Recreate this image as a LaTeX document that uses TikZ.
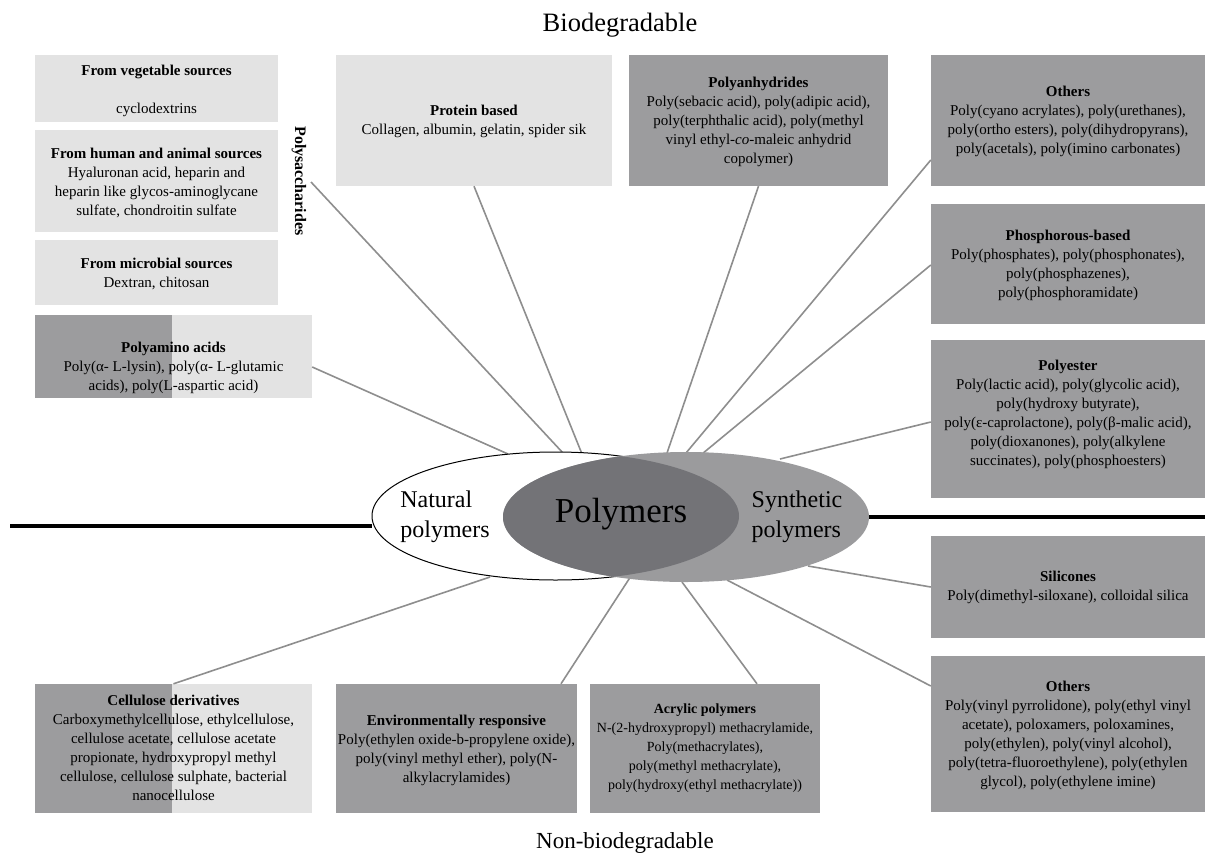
\documentclass[tikz,border=0pt]{standalone}
\usepackage{fontspec}
\setmainfont{Liberation Serif}
\usetikzlibrary{calc,shapes.geometric}
\definecolor{lightgr}{HTML}{E3E3E3}
\definecolor{darkgr}{HTML}{9C9C9E}
\definecolor{lensgr}{HTML}{737377}
\definecolor{syngr}{HTML}{9B9B9D}
\definecolor{conngr}{HTML}{8E8E8E}
\newcommand\boxfont{\fontsize{15pt}{19pt}\selectfont}
\newcommand\smallboxfont{\fontsize{14pt}{19pt}\selectfont}
\begin{document}
\begin{tikzpicture}[x=1pt,y=-1pt,
  lbox/.style={fill=lightgr,draw=none,inner sep=0pt},
  dbox/.style={fill=darkgr,draw=none,inner sep=0pt},
  hbox/.style={fill=lightgr,draw=none,inner sep=0pt,
    path picture={\fill[darkgr] (path picture bounding box.south west) rectangle ([xshift=-1.5pt]path picture bounding box.north);}},
  txt/.style={align=center,font=\boxfont,inner sep=0pt},
  conn/.style={draw=conngr,line width=1.6pt},
  axisline/.style={draw=black,line width=4.5pt},
  big/.style={font=\fontsize{24pt}{30pt}\selectfont,align=left,inner sep=0pt}]
\useasboundingbox (0,0) rectangle (1205,860);
\fill[white] (0,0) rectangle (1205,860);

% titles
\node[font=\fontsize{26.5pt}{30pt}\selectfont] (bio) at (620,25) {Biodegradable};
\node[font=\fontsize{23pt}{28pt}\selectfont] (nonbio) at (625,843) {Non-biodegradable};

% boxes
\node[lbox,minimum width=243pt,minimum height=67pt] (veg) at (156.5,88.5) {};
\node[lbox,minimum width=243pt,minimum height=102pt] (hum) at (156.5,181) {};
\node[lbox,minimum width=243pt,minimum height=65pt] (mic) at (156.5,272.5) {};
\node[hbox,minimum width=277pt,minimum height=83pt] (pa) at (173.5,356.5) {};
\node[lbox,minimum width=276pt,minimum height=131pt] (pr) at (474,120.5) {};
\node[dbox,minimum width=259pt,minimum height=131pt] (pan) at (758.5,120.5) {};
\node[dbox,minimum width=274pt,minimum height=131pt] (ot) at (1068,120.5) {};
\node[dbox,minimum width=274pt,minimum height=120pt] (ph) at (1068,264) {};
\node[dbox,minimum width=274pt,minimum height=158pt] (pe) at (1068,419) {};
\node[dbox,minimum width=274pt,minimum height=102pt] (si) at (1068,587) {};
\node[dbox,minimum width=274pt,minimum height=156pt] (ob) at (1068,734) {};
\node[hbox,minimum width=277pt,minimum height=129pt] (ce) at (173.5,748.5) {};
\node[dbox,minimum width=241pt,minimum height=129pt] (en) at (456.5,748.5) {};
\node[dbox,minimum width=230pt,minimum height=129pt] (ac) at (705,748.5) {};

% box texts
\node[txt] (vegt) at (156.5,91) {\textbf{From vegetable sources}\\[19pt]cyclodextrins};
\node[txt] (humt) at (156.5,183) {\textbf{From human and animal sources}\\Hyaluronan acid, heparin and\\heparin like glycos-aminoglycane\\sulfate, chondroitin sulfate};
\node[txt] (mict) at (156.5,274) {\textbf{From microbial sources}\\Dextran, chitosan};
\node[txt] (pat) at (173.5,368) {\textbf{Polyamino acids}\\Poly(α- L-lysin), poly(α- L-glutamic\\acids), poly(L-aspartic acid)};
\node[txt] (prt) at (474,121.5) {\textbf{Protein based}\\Collagen, albumin, gelatin, spider sik};
\node[txt] (pant) at (758.5,122) {\textbf{Polyanhydrides}\\Poly(sebacic acid), poly(adipic acid),\\poly(terphthalic acid), poly(methyl\\vinyl ethyl-\textit{co}-maleic anhydrid\\copolymer)};
\node[txt] (ott) at (1068,121) {\textbf{Others}\\Poly(cyano acrylates), poly(urethanes),\\poly(ortho esters), poly(dihydropyrans),\\poly(acetals), poly(imino carbonates)};
\node[txt] (pht) at (1068,265.5) {\textbf{Phosphorous-based}\\Poly(phosphates), poly(phosphonates),\\poly(phosphazenes),\\poly(phosphoramidate)};
\node[txt] (pet) at (1068,414) {\textbf{Polyester}\\Poly(lactic acid), poly(glycolic acid),\\poly(hydroxy butyrate),\\poly(ε-caprolactone), poly(β-malic acid),\\poly(dioxanones), poly(alkylene\\succinates), poly(phosphoesters)};
\node[txt] (sit) at (1068,587.5) {\textbf{Silicones}\\Poly(dimethyl-siloxane), colloidal silica};
\node[txt] (obt) at (1068,735) {\textbf{Others}\\Poly(vinyl pyrrolidone), poly(ethyl vinyl\\acetate), poloxamers, poloxamines,\\poly(ethylen), poly(vinyl alcohol),\\poly(tetra-fluoroethylene), poly(ethylen\\glycol), poly(ethylene imine)};
\node[txt] (cet) at (173.5,748) {\textbf{Cellulose derivatives}\\Carboxymethylcellulose, ethylcellulose,\\cellulose acetate, cellulose acetate\\propionate, hydroxypropyl methyl\\cellulose, cellulose sulphate, bacterial\\nanocellulose};
\node[txt] (ent) at (456.5,750.5) {\textbf{Environmentally responsive}\\Poly(ethylen oxide-b-propylene oxide),\\poly(vinyl methyl ether), poly(N-\\alkylacrylamides)};
\node[txt,font=\smallboxfont] (act) at (705,748.5) {\textbf{Acrylic polymers}\\N-(2-hydroxypropyl) methacrylamide,\\Poly(methacrylates),\\poly(methyl methacrylate),\\poly(hydroxy(ethyl methacrylate))};

\node[font=\bfseries\fontsize{16pt}{19pt}\selectfont,rotate=-90,inner sep=0pt] (ps) at (299,181) {Polysaccharides};

% ellipse nodes (geometry)
\node[ellipse,minimum width=367pt,minimum height=128pt,inner sep=0pt] (nat) at (555.5,516) {};
\node[ellipse,minimum width=366pt,minimum height=130pt,inner sep=0pt] (syn) at (686,517) {};

% axis lines
\coordinate (L) at (10,526);
\coordinate (R) at (1205,517);
\draw[axisline] (L) -- (L -| nat.west);
\draw[axisline] (syn.east) -- (R);

% ellipse endpoints
\coordinate (psend) at (311,182);
\coordinate (n1) at (508,454);
\coordinate (n2) at (563,453);
\coordinate (n3) at (582,454);
\coordinate (s1) at (667,453);
\coordinate (s2) at (686,453);
\coordinate (s3) at (702,454);
\coordinate (s4) at (780,459);
\coordinate (s5) at (808,566);
\coordinate (s6) at (727,580);
\coordinate (s7) at (682,582);
\coordinate (m1) at (631,576);
\coordinate (n4) at (490,577);

% connectors
\draw[conn] ([yshift=-10.5pt]pa.east) -- (n1);
\draw[conn] (psend) -- (n2);
\draw[conn] (pr.south) -- (n3);
\draw[conn] (pan.south) -- (s1);
\draw[conn] ([yshift=-39.5pt]ot.west) -- (s2);
\draw[conn] ([yshift=-1pt]ph.west) -- (s3);
\draw[conn] ([yshift=-3pt]pe.west) -- (s4);
\draw[conn] (si.west) -- (s5);
\draw[conn] ([yshift=48pt]ob.west) -- (s6);
\draw[conn] ([xshift=52pt]ac.north) -- (s7);
\draw[conn] ([xshift=104.5pt]en.north) -- (m1);
\draw[conn] (ce.north) -- (n4);

% ellipses
\fill[white] (555.5,516) ellipse [x radius=183.5pt, y radius=64pt];
\draw[black,line width=1pt] (555.5,516) ellipse [x radius=183.5pt, y radius=64pt];
\fill[syngr] (686,517) ellipse [x radius=183pt, y radius=65pt];
\begin{scope}
  \clip (555.5,516) ellipse [x radius=183.5pt, y radius=64pt];
  \fill[lensgr] (686,517) ellipse [x radius=183pt, y radius=65pt];
\end{scope}

\node[big] (natt) at (445,517) {Natural\\polymers};
\node[big] (synt) at (797,517) {Synthetic\\polymers};
\node[font=\fontsize{35pt}{40pt}\selectfont,inner sep=0pt] (poly) at (621,514) {Polymers};
\end{tikzpicture}
\end{document}
